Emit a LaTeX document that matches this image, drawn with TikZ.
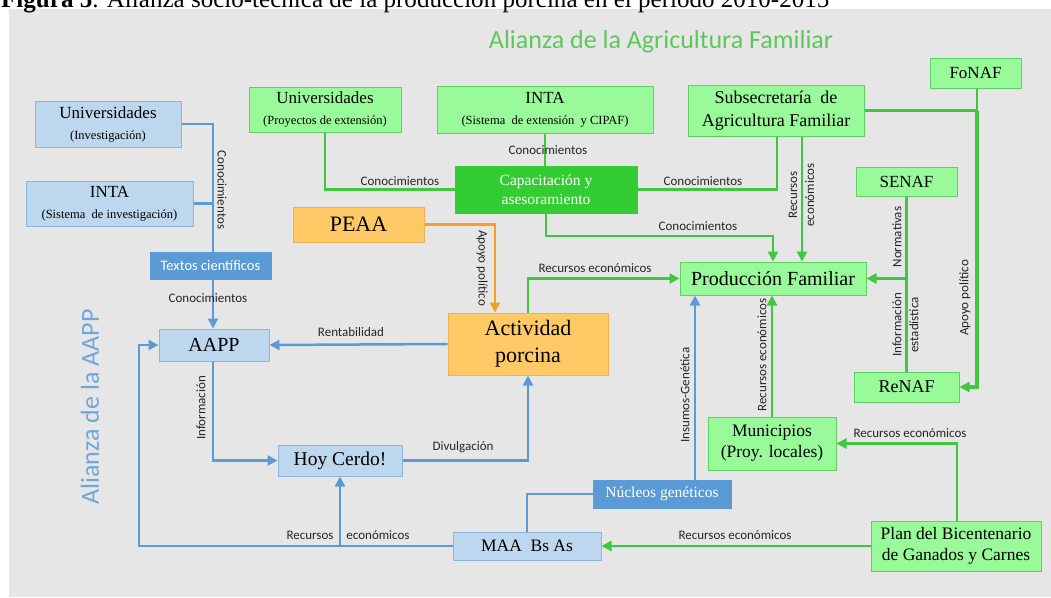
\documentclass[tikz,border=0pt]{standalone}
\usepackage{graphicx}
\usepackage{fontspec}
\setmainfont{Liberation Serif}
\newfontfamily\sfc{Carlito}
\usetikzlibrary{arrows.meta,calc}
\definecolor{bgc}{HTML}{E7E6E6}
\definecolor{lbf}{HTML}{BDD7EE}
\definecolor{lbd}{HTML}{8DB4E2}
\definecolor{bln}{HTML}{5B9BD5}
\definecolor{dbf}{HTML}{5B9BD5}
\definecolor{lgf}{HTML}{99FA99}
\definecolor{lgd}{HTML}{5ED25E}
\definecolor{gln}{HTML}{3EC83E}
\definecolor{dgf}{HTML}{33CC33}
\definecolor{orf}{HTML}{FFC966}
\definecolor{ord}{HTML}{F2B050}
\definecolor{orl}{HTML}{F5A020}
\definecolor{ttl}{HTML}{5CC85C}
\definecolor{atl}{HTML}{6FA6DC}
\newcommand\fsz[2]{\fontsize{#1}{#2}\selectfont}
\begin{document}
\begin{tikzpicture}[x=1pt,y=-1pt,
 nbox/.style={draw, line width=1pt, inner sep=0pt, align=center, text=black},
 lbox/.style={nbox, fill=lbf, draw=lbd},
 dbox/.style={nbox, fill=dbf, draw=dbf, text=white},
 gbox/.style={nbox, fill=lgf, draw=lgd},
 cbox/.style={nbox, fill=dgf, draw=dgf, text=white},
 obox/.style={nbox, fill=orf, draw=ord},
 bl/.style={draw=bln, line width=2.5pt},
 gl/.style={draw=gln, line width=2.5pt},
 ol/.style={draw=orl, line width=2.5pt},
 arr/.style={-{Triangle[length=10pt,width=10pt]}},
 lab/.style={font=\sfc\fsz{13}{17}, text=black!85, inner sep=0pt},
 ]
\useasboundingbox (0,0) rectangle (1051,597);
\clip (0,0) rectangle (1051,597);
\fill[white] (0,0) rectangle (1051,597);
\fill[bgc] (9,9) rectangle (1051,597);

% caption (cut at top)
\node[anchor=base west, inner sep=0pt] (caption) at (1,7) {\resizebox{828pt}{!}{\textbf{Figura 5}. Alianza socio-técnica de la producción porcina en el período 2010-2015}};

% titles
\node[font=\sfc\fsz{26}{30}, text=ttl, inner sep=0pt] (title) at (661,42) {Alianza de la Agricultura Familiar};
\node[font=\sfc\fsz{26}{30}, text=atl, rotate=90, inner sep=0pt] (atitle) at (90,407) {Alianza de la AAPP};

% blue boxes
\node[lbox, minimum width=146pt, minimum height=46pt] (uinv) at (108,124) {\fsz{17}{21}Universidades\\[9pt]\fsz{12.5}{15}(Investigación)};
\node[lbox, minimum width=167pt, minimum height=45pt] (intai) at (109.5,203.5) {\fsz{17}{21}INTA\\[9pt]\fsz{12.5}{15}(Sistema\ \ de investigación)};
\node[dbox, minimum width=121pt, minimum height=27pt, font=\sfc\fsz{14.5}{17}] (textos) at (210.5,265.5) {Textos científicos};
\node[lbox, minimum width=110pt, minimum height=32pt, font=\fsz{20}{24}] (aapp) at (214,345) {AAPP};
\node[lbox, minimum width=124pt, minimum height=31pt, font=\fsz{19.5}{23}] (hoy) at (340,460.5) {Hoy Cerdo!};
\node[lbox, minimum width=148pt, minimum height=28pt, font=\fsz{17.5}{21}] (maa) at (527,546) {MAA\ \ Bs As};
\node[dbox, minimum width=138pt, minimum height=28pt, font=\fsz{15.5}{19}] (nuc) at (662,494) {Núcleos genéticos};

% orange boxes
\node[obox, minimum width=131pt, minimum height=35pt, font=\fsz{22}{26}] (peaa) at (358.5,224.5) {PEAA};
\node[obox, minimum width=160pt, minimum height=62pt, font=\fsz{22}{27}] (act) at (528,344) {Actividad\\porcina};

% green boxes
\node[gbox, minimum width=152pt, minimum height=45pt] (ug) at (325,109.5) {\fsz{17}{21}Universidades\\[9pt]\fsz{12.5}{15}(Proyectos de extensión)};
\node[gbox, minimum width=216pt, minimum height=47pt] (intag) at (545,109.5) {\fsz{17}{21}INTA\\[9pt]\fsz{12.5}{15}(Sistema\ \ de extensión\ \ y CIPAF)};
\node[gbox, minimum width=176pt, minimum height=51pt, font=\fsz{18}{23}] (subs) at (776,110.5) {Subsecretaría\ \ de\\Agricultura Familiar};
\node[gbox, minimum width=91pt, minimum height=30pt, font=\fsz{17}{21}] (fonaf) at (975.5,73) {FoNAF};
\node[cbox, minimum width=182pt, minimum height=47pt, font=\fsz{15.5}{19}] (cap) at (546,189.5) {Capacitación y\\asesoramiento};
\node[gbox, minimum width=101pt, minimum height=29pt, font=\fsz{17}{21}] (senaf) at (906.5,181.5) {SENAF};
\node[gbox, minimum width=186pt, minimum height=33pt, font=\fsz{20}{24}] (prod) at (773,278.5) {Producción Familiar};
\node[gbox, minimum width=105pt, minimum height=30pt, font=\fsz{18}{22}] (renaf) at (906.5,387) {ReNAF};
\node[gbox, minimum width=128pt, minimum height=53pt, font=\fsz{17.5}{21}] (mun) at (772,443.5) {Municipios\\(Proy. locales)};
\node[gbox, minimum width=170pt, minimum height=50pt, font=\fsz{17.5}{21}] (plan) at (956,546) {Plan del Bicentenario\\de Ganados y Carnes};

% helper coordinates
\coordinate (bx) at (213,0);
\coordinate (lx) at (139,0);
\coordinate (ix) at (695,0);
\coordinate (ox) at (495,0);
\coordinate (k1) at (773,236);
\coordinate (sx) at (777,0);
\coordinate (rx) at (802,0);
\coordinate (fx) at (977,0);
\coordinate (px) at (957,0);

% ---- blue connectors
\draw[bl] (uinv.east) -- (uinv.east -| bx) -- (textos.north -| bx);
\draw[bl] (intai.east) -- (intai.east -| bx);
\node[lab, rotate=-90] (l1) at (222,190) {Conocimientos};
\draw[bl, arr] (textos.south -| bx) -- (aapp.north -| bx);
\node[lab] (l2) at (208,298) {Conocimientos};
\draw[bl, arr] (act.west) -- (aapp.east);
\node[lab] (l3) at (351,332) {Rentabilidad};
\draw[bl, arr] (aapp.south -| bx) |- (hoy.west);
\node[lab, rotate=90] (l4) at (201,408) {Información};
\draw[bl, arr] (hoy.east) -| (act.south);
\node[lab] (l5) at (463,447) {Divulgación};
\draw[bl, arr] (maa.west) -- (maa.west -| lx) |- (aapp.west);
\draw[bl, arr] (maa.west -| hoy.south) -- (hoy.south);
\node[lab] (l6) at (310,535) {Recursos};
\node[lab] (l7) at (378,535) {económicos};
\draw[bl] (maa.north) |- (nuc.west);
\draw[bl, arr] (nuc.north -| ix) -- (prod.south -| ix);
\node[lab, rotate=90] (l8) at (685,395) {Insumos-Genética};

% ---- orange connector
\draw[ol, arr] (peaa.east) -| (ox |- act.north);
\node[lab, rotate=-90] (l9) at (482,268) {Apoyo político};

% ---- green connectors
\draw[gl] (ug.south) |- (cap.west);
\node[lab] (l10) at (400,181) {Conocimientos};
\draw[gl] (intag.south) -- (intag.south |- cap.north);
\node[lab] (l11) at (548,150) {Conocimientos};
\draw[gl] (cap.east) -| (subs.south -| sx);
\node[lab] (l12) at (703,181) {Conocimientos};
\draw[gl, arr] (cap.south) |- (k1) -- (k1 |- prod.north);
\node[lab] (l13) at (698,226) {Conocimientos};
\draw[gl, arr] (subs.south -| rx) -- (prod.north -| rx);
\node[lab, rotate=90, align=center] (l14) at (801.5,195) {Recursos\\económicos};
\draw[gl, arr] (act.north) |- (prod.west);
\node[lab] (l15) at (595,268) {Recursos económicos};
\draw[gl] (senaf.south) -- (renaf.north);
\draw[gl, arr] (senaf.south |- prod.east) -- (prod.east);
\node[lab, rotate=90] (l16) at (897,237) {Normativas};
\node[lab, rotate=90, align=center] (l17) at (905.5,325) {Información\\estadística};
\draw[gl] (fonaf.south -| fx) -- (fx |- subs.east);
\draw[gl] (subs.east) -- (fx |- subs.east);
\draw[draw=gln, line width=4pt, arr] (fx |- subs.east) |- (renaf.east);
\node[lab, rotate=90] (l18) at (965,298) {Apoyo político};
\draw[gl, arr] (plan.west) -- (maa.east);
\node[lab] (l19) at (735,535) {Recursos económicos};
\draw[gl, arr] (plan.north -| px) |- (mun.east);
\node[lab] (l20) at (910,433) {Recursos económicos};
\draw[gl, arr] (mun.north) -- (prod.south -| mun.north);
\node[lab, rotate=90] (l21) at (762,355) {Recursos económicos};
\end{tikzpicture}
\end{document}
